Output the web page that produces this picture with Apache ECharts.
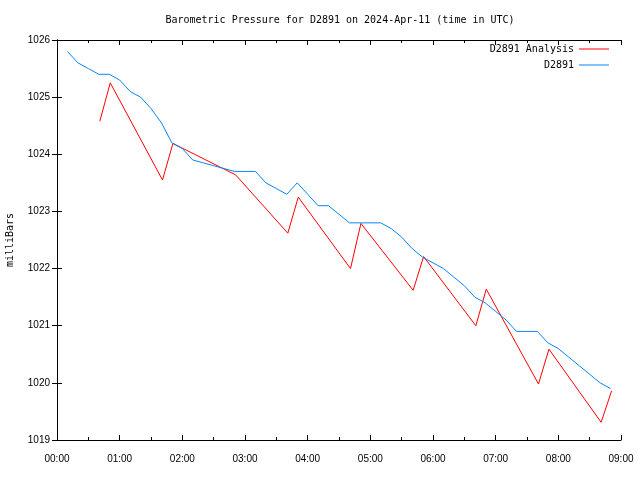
<!DOCTYPE html>
<html>
<head>
<meta charset="utf-8">
<script src="https://cdn.jsdelivr.net/npm/echarts@6/dist/echarts.min.js"></script>
<style>html,body{margin:0;padding:0;background:#fff}#c{width:640px;height:480px}</style>
</head>
<body>
<div id="c"></div>
<script>
const titleText = 'Barometric Pressure for D2891 on 2024-Apr-11 (time in UTC)';
const yName = 'milliBars';
const seriesNames = ['D2891 Analysis', 'D2891'];

const analysisTimes = ['00:41','00:51','01:41','01:51','02:51','03:41','03:51','04:41','04:51','05:41','05:51','06:41','06:51','07:41','07:51','08:41','08:51'];
const analysisValues = [1024.58,1025.25,1023.55,1024.19,1023.64,1022.62,1023.25,1022.00,1022.79,1021.62,1022.21,1021.00,1021.64,1019.98,1020.59,1019.31,1019.86];

const obsTimes = ['00:10','00:20','00:30','00:40','00:50','01:00','01:10','01:20','01:30','01:40','01:50',
  '02:00','02:10','02:20','02:30','02:40','02:50','03:00','03:10','03:20','03:30','03:40','03:50',
  '04:00','04:10','04:20','04:30','04:40','04:50','05:00','05:10','05:20','05:30','05:40','05:50',
  '06:00','06:10','06:20','06:30','06:40','06:50','07:00','07:10','07:20','07:30','07:40','07:50',
  '08:00','08:10','08:20','08:30','08:40','08:50'];
const obsValues = [1025.8,1025.6,1025.5,1025.4,1025.4,1025.3,1025.1,1025.0,1024.8,1024.55,1024.2,
  1024.1,1023.9,1023.85,1023.8,1023.75,1023.7,1023.7,1023.7,1023.5,1023.4,1023.3,1023.5,
  1023.3,1023.1,1023.1,1022.95,1022.8,1022.8,1022.8,1022.8,1022.7,1022.55,1022.35,1022.2,
  1022.1,1022.0,1021.85,1021.7,1021.5,1021.4,1021.25,1021.1,1020.9,1020.9,1020.9,1020.7,
  1020.6,1020.45,1020.3,1020.15,1020.0,1019.9];

const xMin = 0, xMax = 540, xInterval = 60;
const yMin = 1019, yMax = 1026, yInterval = 1;

function toMin(s){const p=s.split(':');return (+p[0])*60+(+p[1]);}
function pairs(ts,vs){return ts.map((t,i)=>[toMin(t),vs[i]]);}
function fmtX(v){const h=Math.round(v/60);return (h<10?'0':'')+h+':00';}
function fmtY(v){return String(Math.round(v));}

const font = 'DejaVu Sans Mono';
const tickFont = 'Liberation Sans';
const red = '#ff0000', blue = '#0a85f5';

const chart = echarts.init(document.getElementById('c'), null, {renderer:'canvas'});
const axisBase = {
  axisLine:{show:true,lineStyle:{color:'#000',width:1}},
  splitLine:{show:false}
};
const legendIcon = 'path://M0,4.5L30,4.5L30,5.5L0,5.5Z';
chart.setOption({
  backgroundColor:'#fff',
  animation:false,
  title:{text:titleText,left:335,top:10,textAlign:'center',
    textStyle:{fontFamily:font,fontSize:10,fontWeight:'normal',color:'#000'}},
  legend:[
    {data:[seriesNames[0]],right:26,top:39,orient:'vertical',align:'right',itemWidth:30,itemHeight:10,
      icon:legendIcon,textStyle:{fontFamily:font,fontSize:10,color:'#000'}},
    {data:[seriesNames[1]],right:26,top:55,orient:'vertical',align:'right',itemWidth:30,itemHeight:10,
      icon:legendIcon,textStyle:{fontFamily:font,fontSize:10,color:'#000'}}
  ],
  grid:{left:57,right:19,top:40,bottom:40,containLabel:false,outerBoundsMode:'none'},
  xAxis:[
    Object.assign({type:'value',min:xMin,max:xMax,interval:xInterval,position:'bottom',
      axisTick:{show:true,inside:true,length:5,lineStyle:{color:'#000'}},
      minorTick:{show:true,splitNumber:2,length:3,lineStyle:{color:'#000'}},
      axisLabel:{show:true,margin:14,formatter:fmtX,fontFamily:tickFont,fontSize:10,color:'#000',
        showMinLabel:true,showMaxLabel:true}},axisBase),
    Object.assign({type:'value',min:xMin,max:xMax,interval:xInterval,position:'top',
      axisTick:{show:true,inside:true,length:5,lineStyle:{color:'#000'}},
      minorTick:{show:true,splitNumber:2,length:3,lineStyle:{color:'#000'}},
      axisLabel:{show:false}},axisBase)
  ],
  yAxis:[
    Object.assign({type:'value',min:yMin,max:yMax,interval:yInterval,position:'left',
      name:yName,nameLocation:'middle',nameRotate:90,nameGap:42,
      nameTextStyle:{fontFamily:font,fontSize:10,color:'#000'},
      axisTick:{show:true,inside:true,length:5,lineStyle:{color:'#000'}},
      axisLabel:{show:true,margin:7,formatter:fmtY,fontFamily:tickFont,fontSize:10,color:'#000'}},axisBase),
    Object.assign({type:'value',min:yMin,max:yMax,interval:yInterval,position:'right',
      axisTick:{show:true,inside:true,length:5,lineStyle:{color:'#000'}},
      axisLabel:{show:false}},axisBase)
  ],
  series:[
    {name:seriesNames[0],type:'line',xAxisIndex:0,yAxisIndex:0,data:pairs(analysisTimes,analysisValues),
      showSymbol:false,symbol:'none',lineStyle:{color:red,width:1},itemStyle:{color:red}},
    {name:seriesNames[1],type:'line',xAxisIndex:0,yAxisIndex:0,data:pairs(obsTimes,obsValues),
      showSymbol:false,symbol:'none',lineStyle:{color:blue,width:1},itemStyle:{color:blue}}
  ]
});
</script>
</body>
</html>
